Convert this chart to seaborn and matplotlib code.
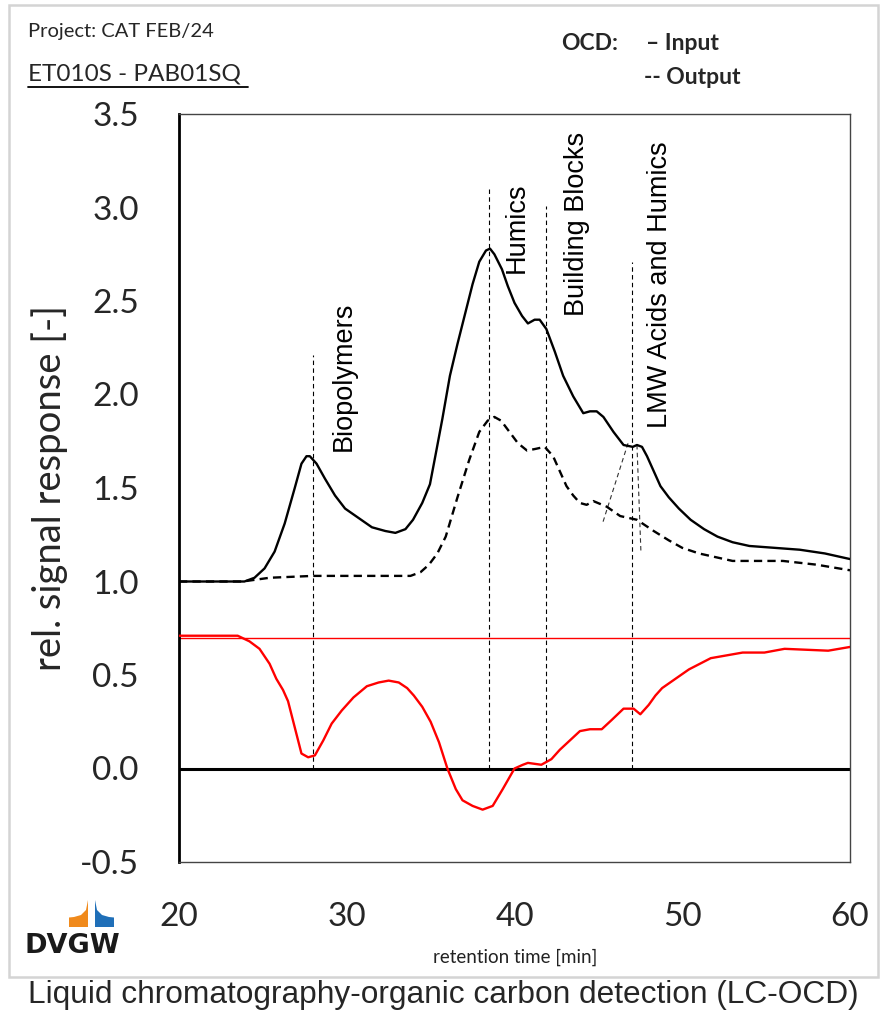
import numpy as np
import pandas as pd
import matplotlib
matplotlib.use("Agg")
import matplotlib.pyplot as plt
import seaborn as sns
from matplotlib.patches import Polygon, Rectangle
from matplotlib.lines import Line2D

# ---------------- data ----------------
time_in = [20.0, 22.0, 23.9, 24.5, 25.1, 25.7, 26.3, 26.9, 27.3, 27.6, 27.8, 28.2,
           28.7, 29.3, 29.9, 30.7, 31.5, 32.3, 32.9, 33.5, 33.95, 34.5, 34.96, 35.3,
           35.7, 36.15, 36.6, 37.05, 37.5, 37.9, 38.3, 38.54, 38.8, 39.25, 39.6, 40.0,
           40.45, 40.8, 41.2, 41.5, 41.9, 42.4, 42.9, 43.5, 44.1, 44.5, 44.9, 45.3,
           45.9, 46.5, 47.05, 47.3, 47.6, 47.9, 48.3, 48.7, 49.2, 49.8, 50.5, 51.3,
           52.1, 53.0, 54.0, 55.5, 57.0, 58.5, 60.0]
sig_in = [1.00, 1.00, 1.00, 1.02, 1.07, 1.16, 1.31, 1.50, 1.63, 1.67, 1.67, 1.63,
          1.55, 1.46, 1.39, 1.34, 1.29, 1.27, 1.26, 1.28, 1.33, 1.42, 1.52, 1.68,
          1.87, 2.10, 2.27, 2.43, 2.59, 2.71, 2.77, 2.78, 2.75, 2.67, 2.58, 2.49,
          2.42, 2.38, 2.40, 2.40, 2.35, 2.23, 2.10, 1.99, 1.90, 1.91, 1.91, 1.88,
          1.80, 1.73, 1.72, 1.73, 1.72, 1.67, 1.59, 1.51, 1.45, 1.39, 1.33, 1.28,
          1.24, 1.21, 1.19, 1.18, 1.17, 1.15, 1.12]

time_out = [20.0, 23.8, 25.4, 28.0, 30.0, 33.8, 34.4, 34.9, 35.4, 35.9, 36.6, 37.3,
            37.9, 38.4, 38.8, 39.2, 39.7, 40.2, 40.75, 41.3, 41.8, 42.3, 42.7, 43.1,
            43.5, 43.9, 44.3, 44.7, 45.5, 46.3, 47.3, 48.3, 49.2, 50.0, 51.0, 52.0,
            53.0, 56.0, 58.0, 60.0]
sig_out = [1.00, 1.00, 1.02, 1.03, 1.03, 1.03, 1.05, 1.09, 1.15, 1.24, 1.45, 1.65,
           1.80, 1.86, 1.88, 1.86, 1.80, 1.74, 1.70, 1.71, 1.72, 1.67, 1.59, 1.51,
           1.46, 1.42, 1.41, 1.43, 1.40, 1.35, 1.33, 1.27, 1.22, 1.18, 1.15, 1.13,
           1.11, 1.11, 1.09, 1.06]

time_diff = [20.0, 22.0, 23.5, 24.2, 24.8, 25.4, 25.8, 26.2, 26.5, 26.9, 27.3, 27.7,
             28.1, 28.6, 29.1, 29.7, 30.4, 31.2, 31.9, 32.5, 33.1, 33.6, 34.0, 34.5,
             35.0, 35.5, 36.0, 36.5, 36.9, 37.5, 38.1, 38.7, 39.3, 40.0, 40.5, 40.8,
             41.6, 42.2, 42.7, 43.3, 43.9, 44.5, 45.2, 45.8, 46.5, 47.1, 47.5, 48.0,
             48.4, 48.8, 49.6, 50.4, 51.7, 53.6, 54.9, 56.1, 58.7, 60.0]
sig_diff = [0.71, 0.71, 0.71, 0.68, 0.64, 0.56, 0.48, 0.42, 0.36, 0.22, 0.08, 0.06,
            0.07, 0.15, 0.24, 0.31, 0.38, 0.44, 0.46, 0.47, 0.46, 0.43, 0.39, 0.33,
            0.25, 0.14, 0.00, -0.11, -0.17, -0.20, -0.22, -0.20, -0.11, 0.00, 0.02, 0.03,
            0.02, 0.05, 0.10, 0.15, 0.20, 0.21, 0.21, 0.26, 0.32, 0.32, 0.29, 0.34,
            0.39, 0.43, 0.48, 0.53, 0.59, 0.62, 0.62, 0.64, 0.63, 0.65]

ref_level = 0.70

fraction_names = ["Biopolymers", "Humics", "Building Blocks", "LMW Acids and Humics"]
fraction_time = [28.0, 38.5, 41.9, 47.0]
fraction_top = [2.21, 3.11, 3.01, 2.71]
label_time = [29.8, 40.15, 43.7, 48.7]
label_base = [1.70, 2.65, 2.42, 1.82]

tangent_a_time = [45.28, 46.77]
tangent_a_sig = [1.32, 1.74]
tangent_b_time = [47.30, 47.54]
tangent_b_sig = [1.73, 1.15]

x_ticks = [20, 30, 40, 50, 60]
y_ticks = [-0.5, 0.0, 0.5, 1.0, 1.5, 2.0, 2.5, 3.0, 3.5]
y_tick_labels = ["-0.5", "0.0", "0.5", "1.0", "1.5", "2.0", "2.5", "3.0", "3.5"]

# ---------------- figure ----------------
sns.set_theme(style="white")
plt.rcParams["font.family"] = ["Lato", "DejaVu Sans"]

W, H = 883, 1010
fig = plt.figure(figsize=(W / 100, H / 100), dpi=100)
fig.patch.set_facecolor("white")


def fx(x):
    return x / W


def fy(y):
    return 1 - y / H


ax = fig.add_axes([fx(179), fy(862), fx(850) - fx(179), fy(114) - fy(862)])

df_in = pd.DataFrame({"t": time_in, "s": sig_in})
df_out = pd.DataFrame({"t": time_out, "s": sig_out})
df_diff = pd.DataFrame({"t": time_diff, "s": sig_diff})

# fraction marker lines
for t, top in zip(fraction_time, fraction_top):
    ax.plot([t, t], [0, top], color="black", lw=0.8, linestyle=(0, (4, 3)), zorder=2)
ax.plot(tangent_a_time, tangent_a_sig, color="#333333", lw=0.8, linestyle=(0, (4, 3)), zorder=2)
ax.plot(tangent_b_time, tangent_b_sig, color="#333333", lw=0.8, linestyle=(0, (4, 3)), zorder=2)

ax.axhline(ref_level, color="red", lw=1.0, zorder=2)
ax.axhline(0.0, color="black", lw=2.2, zorder=2)

line_kw = dict(lw=1.7, sort=False, zorder=3)
sns.lineplot(data=df_in, x="t", y="s", ax=ax, color="black", **line_kw)
sns.lineplot(data=df_out, x="t", y="s", ax=ax, color="black",
             linestyle=(0, (3.5, 2.2)), **line_kw)
sns.lineplot(data=df_diff, x="t", y="s", ax=ax, color="red", **line_kw)
for ln in ax.lines:
    ln.set_solid_joinstyle("round")
    ln.set_dash_joinstyle("round")

for name, t, b in zip(fraction_names, label_time, label_base):
    ax.text(t, b, name, rotation=90, ha="center", va="bottom", fontsize=19.5,
            family=["Liberation Sans", "DejaVu Sans"], color="black", zorder=4)

ax.set_xlim(20, 60)
ax.set_ylim(-0.5, 3.5)
ax.set_xticks(x_ticks)
ax.set_xticklabels([str(v) for v in x_ticks], fontsize=24)
ax.set_yticks(y_ticks)
ax.set_yticklabels(y_tick_labels, fontsize=24)
ax.tick_params(axis="both", length=0)
ax.tick_params(axis="y", pad=29)
ax.tick_params(axis="x", pad=29)
ax.set_xlabel("")
ax.set_ylabel("")

for side in ["top", "right", "bottom"]:
    ax.spines[side].set_color("#444444")
    ax.spines[side].set_linewidth(1.0)
ax.spines["left"].set_color("black")
ax.spines["left"].set_linewidth(2.0)

# axis titles
fig.text(fx(50), fy(488), "rel. signal response [-]", rotation=90, ha="center", va="center",
         fontsize=27.5)
fig.text(fx(515), fy(957), "retention time [min]", ha="center", va="center", fontsize=13.5,
         color="#222222")

# header texts
fig.text(fx(28), fy(32), "Project: CAT FEB/24", ha="left", va="center", fontsize=14.5)
fig.text(fx(28), fy(74), "ET010S - PAB01SQ", ha="left", va="center", fontsize=17.5)
fig.add_artist(Line2D([fx(28), fx(248)], [fy(87), fy(87)], color="black", lw=1.3,
                      transform=fig.transFigure))
fig.text(fx(561), fy(43), "OCD:", ha="left", va="center", fontsize=16.5, fontweight="bold")
fig.text(fx(646), fy(43), "\u2013 Input", ha="left", va="center", fontsize=16.5, fontweight="bold")
fig.text(fx(644), fy(77), "-- Output", ha="left", va="center", fontsize=16.5, fontweight="bold")

# outer frame
fig.add_artist(Rectangle((fx(9), fy(977)), fx(878) - fx(9), fy(5) - fy(977), fill=False,
                         edgecolor="#d4d4d4", lw=1.8, transform=fig.transFigure))

# logo
orange = [(88, 900), (86, 910), (81, 915), (74, 917), (69, 917.5), (69, 927), (88, 927)]
blue = [(95, 900), (97, 910), (102, 915), (109, 917), (114, 917.5), (114, 927), (95, 927)]
fig.add_artist(Polygon([(fx(a), fy(b)) for a, b in orange], closed=True, facecolor="#f08a1c",
                       edgecolor="none", transform=fig.transFigure))
fig.add_artist(Polygon([(fx(a), fy(b)) for a, b in blue], closed=True, facecolor="#1f6fb8",
                       edgecolor="none", transform=fig.transFigure))
fig.text(fx(72), fy(946), "DVGW", ha="center", va="center", fontsize=19.5, fontweight="bold",
         family=["DejaVu Sans"], color="#1a1a1a")

# caption
fig.text(fx(443), fy(995), "Liquid chromatography-organic carbon detection (LC-OCD)",
         ha="center", va="center", fontsize=22.8, family=["Liberation Sans", "DejaVu Sans"])

fig.savefig("out.png", dpi=100, facecolor="white")
